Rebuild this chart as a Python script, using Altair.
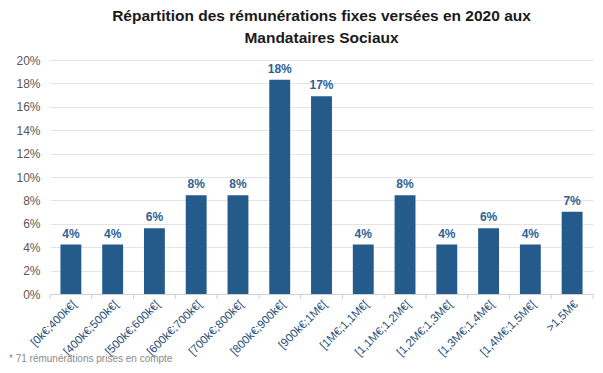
import altair as alt
import pandas as pd

categories = ["[0k€;400k€[", "[400k€;500k€[", "[500k€;600k€[", "[600k€;700k€[",
              "[700k€;800k€[", "[800k€;900k€[", "[900k€;1M€[", "[1M€;1,1M€[",
              "[1,1M€;1,2M€[", "[1,2M€;1,3M€[", "[1,3M€;1,4M€[", "[1,4M€;1,5M€[",
              ">1,5M€"]
shares = [4.23, 4.23, 5.63, 8.45, 8.45, 18.31, 16.90, 4.23, 8.45, 4.23, 5.63, 4.23, 7.04]
labels = ["4%", "4%", "6%", "8%", "8%", "18%", "17%", "4%", "8%", "4%", "6%", "4%", "7%"]
y_ticks = [0, 2, 4, 6, 8, 10, 12, 14, 16, 18, 20]

df = pd.DataFrame({"cat": categories, "val": [s / 100 for s in shares], "lab": labels})

FONT = "Liberation Sans"
BLUE = "#245b8a"
W, H = 543, 234
HALF_GAP = W / len(categories) * 0.25

x = alt.X("cat:N", sort=categories, title=None,
          scale=alt.Scale(paddingInner=0.5, paddingOuter=0.25),
          axis=alt.Axis(labelAngle=-45, labelColor="#1f4e79", labelFontSize=11.5,
                        labelFont=FONT, labelFontWeight="normal", ticks=False,
                        domainColor="#d0d0d0", labelPadding=4, labelOverlap=False))
y = alt.Y("val:Q", title=None,
          scale=alt.Scale(domain=[0, 0.2]),
          axis=alt.Axis(format=".0%", values=[v / 100 for v in y_ticks],
                        labelColor="#595959", labelFontSize=12, labelFont=FONT,
                        domain=False, ticks=False, gridColor="#e4e4e4",
                        labelPadding=10, labelOverlap=False))

bars = alt.Chart(df).mark_bar(color=BLUE).encode(x=x, y=y)
texts = alt.Chart(df).mark_text(dy=-11, fontSize=12, fontWeight="bold",
                                color="#2f6193", font=FONT).encode(x=x, y=y, text="lab:N")
ticks_left = alt.Chart(df).mark_rule(color="#d0d0d0", xOffset=-HALF_GAP).encode(
    x=alt.X("cat:N", sort=categories, bandPosition=0),
    y=alt.value(H), y2=alt.value(H + 5))
ticks_right = alt.Chart(df).transform_filter(
    alt.datum.cat == categories[-1]).mark_rule(color="#d0d0d0", xOffset=HALF_GAP).encode(
    x=alt.X("cat:N", sort=categories, bandPosition=1),
    y=alt.value(H), y2=alt.value(H + 5))
note = alt.Chart(pd.DataFrame({"t": ["* 71 rémunérations prises en compte"]})).mark_text(
    align="left", baseline="middle", fontSize=10, color="#8a8a8a", font=FONT).encode(
    x=alt.value(-41), y=alt.value(299), text="t:N")

chart = alt.layer(bars, texts, ticks_left, ticks_right, note).properties(
    width=W, height=H,
    autosize=alt.AutoSizeParams(type="none"),
    padding={"left": 42, "top": 52, "right": 2, "bottom": 71},
    title=alt.TitleParams(
        ["Répartition des rémunérations fixes versées en 2020 aux", "Mandataires Sociaux"],
        font=FONT, fontSize=15.5, fontWeight="bold", color="#1a1a1a",
        anchor="middle", offset=8, lineHeight=22),
).configure_view(stroke=None)

chart.save("out.html", embed_options={"renderer": "svg", "actions": False})
